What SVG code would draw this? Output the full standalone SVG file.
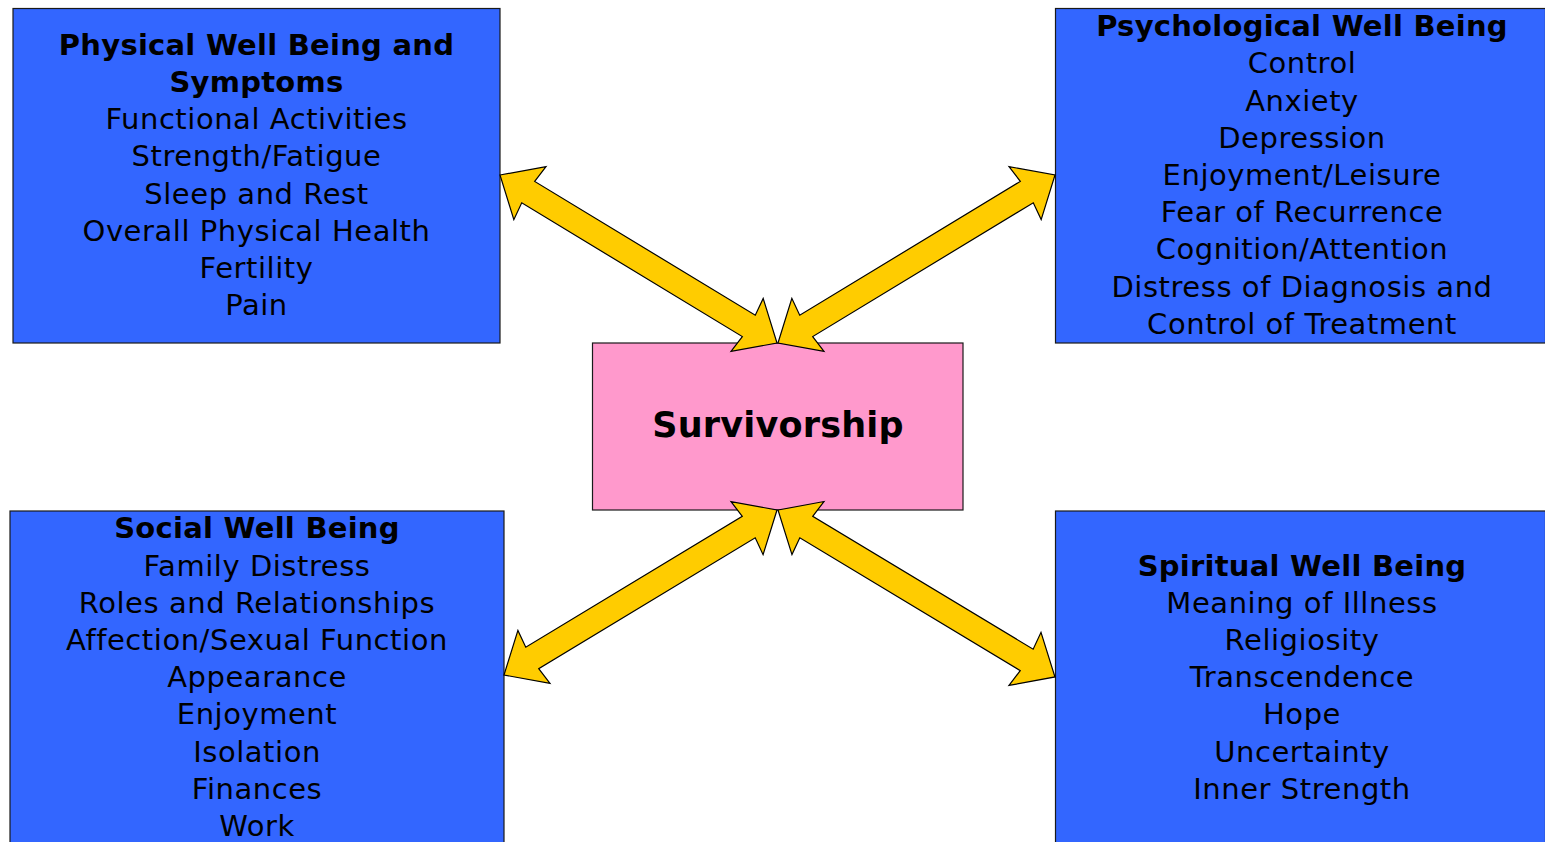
<svg xmlns="http://www.w3.org/2000/svg" width="1545" height="842" viewBox="0 0 1545 842">
<style>
.box{fill:#3366FF;stroke:#1a1a1a;stroke-width:1.2}
.pink{fill:#FF99CC;stroke:#1a1a1a;stroke-width:1.2}
.arrow{fill:#FFCC00;stroke:#000;stroke-width:1.2;stroke-linejoin:miter}
text{font-family:"DejaVu Sans",Verdana,sans-serif;font-size:29px;letter-spacing:0.55px;fill:#000;text-anchor:middle}
.h{font-weight:bold;letter-spacing:0.25px}
.big{font-weight:bold;font-size:35px;letter-spacing:0.2px}
</style>
<rect width="1545" height="842" fill="#fff"/>
<g id="physical">
<rect class="box" x="13" y="8.5" width="487" height="334.5"/>
<text class="h" x="256.5" y="55">Physical Well Being and</text>
<text class="h" x="256.5" y="92">Symptoms</text>
<text x="256.5" y="129">Functional Activities</text>
<text x="256.5" y="166">Strength/Fatigue</text>
<text x="256.5" y="203.5">Sleep and Rest</text>
<text x="256.5" y="240.5">Overall Physical Health</text>
<text x="256.5" y="278">Fertility</text>
<text x="256.5" y="315">Pain</text>
</g>
<g id="psychological">
<rect class="box" x="1055.5" y="8.5" width="490" height="334.5"/>
<text class="h" x="1302" y="36">Psychological Well Being</text>
<text x="1302" y="73">Control</text>
<text x="1302" y="111">Anxiety</text>
<text x="1302" y="148">Depression</text>
<text x="1302" y="185">Enjoyment/Leisure</text>
<text x="1302" y="222">Fear of Recurrence</text>
<text x="1302" y="259">Cognition/Attention</text>
<text x="1302" y="297">Distress of Diagnosis and</text>
<text x="1302" y="334">Control of Treatment</text>
</g>
<g id="survivorship">
<rect class="pink" x="592.5" y="343" width="370.5" height="167"/>
<text class="big" x="778" y="437">Survivorship</text>
</g>
<g id="social">
<rect class="box" x="10" y="511" width="494" height="340"/>
<text class="h" x="257" y="538">Social Well Being</text>
<text x="257" y="576">Family Distress</text>
<text x="257" y="613">Roles and Relationships</text>
<text x="257" y="650">Affection/Sexual Function</text>
<text x="257" y="687">Appearance</text>
<text x="257" y="724">Enjoyment</text>
<text x="257" y="762">Isolation</text>
<text x="257" y="799">Finances</text>
<text x="257" y="836">Work</text>
</g>
<g id="spiritual">
<rect class="box" x="1055.5" y="511" width="490" height="340"/>
<text class="h" x="1302" y="576">Spiritual Well Being</text>
<text x="1302" y="613">Meaning of Illness</text>
<text x="1302" y="650">Religiosity</text>
<text x="1302" y="687">Transcendence</text>
<text x="1302" y="724">Hope</text>
<text x="1302" y="762">Uncertainty</text>
<text x="1302" y="799">Inner Strength</text>
</g>
<g id="connectors">
<polygon class="arrow" transform="translate(500,175) rotate(31.24)" points="0,0 35,-31 33,-12.5 291,-12.5 289,-31 324,0 289,31 291,12.5 33,12.5 35,31"/>
<polygon class="arrow" transform="translate(778,343) rotate(-31.24)" points="0,0 35,-31 33,-12.5 291,-12.5 289,-31 324,0 289,31 291,12.5 33,12.5 35,31"/>
<polygon class="arrow" transform="translate(777,510) rotate(148.85)" points="0,0 35,-31 33,-12.5 286,-12.5 284,-31 319,0 284,31 286,12.5 33,12.5 35,31"/>
<polygon class="arrow" transform="translate(778,510) rotate(31.08)" points="0,0 35,-31 33,-12.5 290.4,-12.5 288.4,-31 323.4,0 288.4,31 290.4,12.5 33,12.5 35,31"/>
</g>
</svg>
